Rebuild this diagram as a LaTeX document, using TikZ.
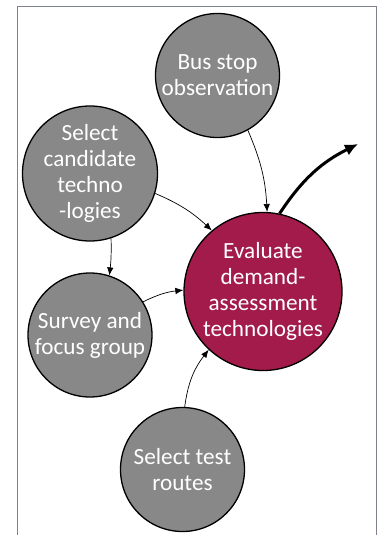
\documentclass[tikz,border=0pt]{standalone}
\usepackage{fontspec}
\setmainfont{Carlito}
\usetikzlibrary{arrows.meta}
\definecolor{nodegrey}{RGB}{136,136,136}
\definecolor{evalred}{RGB}{162,27,74}
\definecolor{framegrey}{RGB}{125,130,140}
\begin{document}
\begin{tikzpicture}[x=1pt,y=-1pt]

\tikzset{vertex/.style = {shape=circle,draw,line width=1.3pt,fill=nodegrey,text=white,inner sep=0pt,
  minimum size=124pt,align=center,font=\fontsize{23.2}{26}\selectfont}}
\tikzset{edge/.style = {-{Latex[length=8pt,width=6.5pt]},line width=0.7pt}}
\useasboundingbox (0,0) rectangle (380,535);
\draw[framegrey,line width=1pt] (17,540) -- (17,7) -- (376,7) -- (376,540);
%verticies
\node[vertex] (1) at (217.5,75.5) {Bus stop\\observation};
\node[vertex] (2) at (90,173.5) {Select\\candidate\\techno\\-logies};
\node[vertex] (3) at (90,335) {Survey and\\focus group};
\node[vertex] (4) at (182.5,469.5) {Select test\\routes};
\node[vertex, fill=evalred, minimum size=158pt] (5) at (263,291.5) {Evaluate\\demand-\\assessment\\technologies};
\coordinate (out) at (358,144);
%edges
\draw [edge] (1.-61) to[bend left=10] (5.87);
\draw [edge] (2.-17) to[bend left=10] (5.130);
\draw [edge] (2.-72) to[bend left=4] (3.72);
\draw [edge] (3.32) to[bend left=10] (5.179);
\draw [edge] (4.88) to[bend left=15] (5.-133);
\draw [-{Latex[length=13pt,width=12pt]}, line width=3pt] (5.78) to[bend left=15] (out);

\end{tikzpicture}
\end{document}
